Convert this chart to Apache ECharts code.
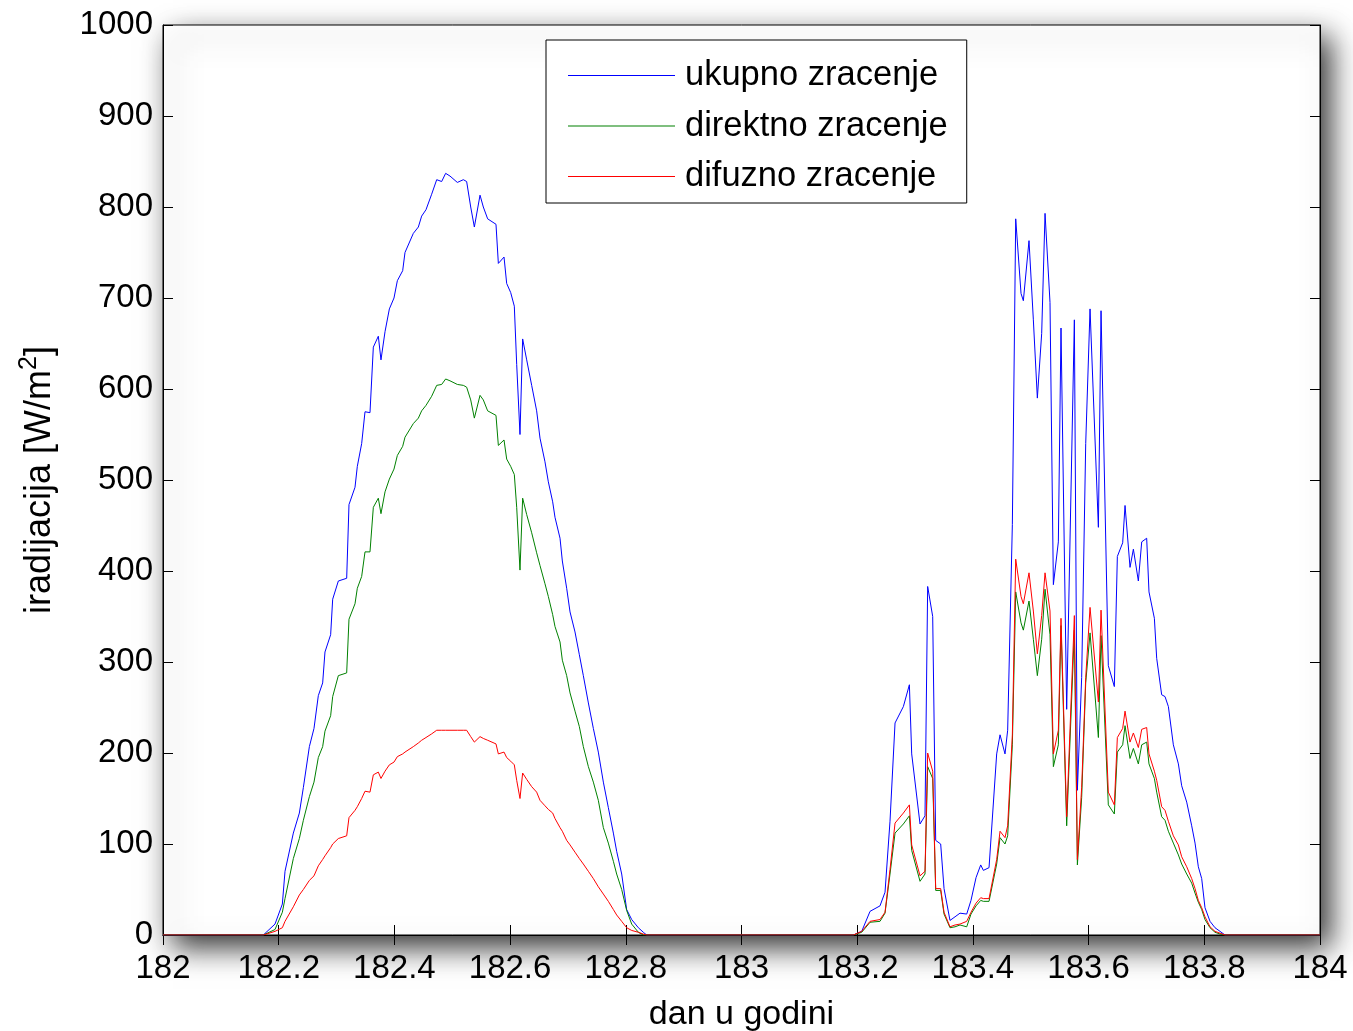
<!DOCTYPE html>
<html>
<head>
<meta charset="utf-8">
<script src="https://cdn.jsdelivr.net/npm/echarts@6/dist/echarts.min.js"></script>
<style>
  html, body { margin: 0; padding: 0; background: #fff; }
  #chart { width: 1353px; height: 1031px; }
</style>
</head>
<body>
<div id="chart"></div>
<script>
// vrijeme (dan u godini)
const dani = [182,
  182.1734,182.1936,182.2063,182.2109,182.2253,182.2357,182.2426,182.2530,182.2610,182.2685,
  182.2760,182.2800,182.2898,182.2933,182.3031,182.3175,182.3215,182.3319,182.3359,182.3434,
  182.3492,182.3578,182.3636,182.3722,182.3768,182.3838,182.3913,182.3993,182.4051,182.4143,
  182.4183,182.4327,182.4414,182.4471,182.4546,182.4644,182.4731,182.4817,182.4886,182.4961,
  182.5088,182.5192,182.5249,182.5319,182.5382,182.5480,182.5537,182.5612,182.5756,182.5797,
  182.5895,182.5941,182.6010,182.6073,182.6114,182.6171,182.6217,182.6287,182.6373,182.6459,
  182.6517,182.6603,182.6661,182.6736,182.6776,182.6863,182.6903,182.6978,182.7036,182.7122,
  182.7197,182.7266,182.7353,182.7439,182.7525,182.7612,182.7698,182.7785,182.7842,182.7929,
  182.8015,182.8102,182.8217,182.8303,182.8361,
  183.1933,183.2078,183.2222,183.2394,183.2481,183.2567,183.2654,183.2798,183.2902,183.2942,
  183.3086,183.3172,183.3218,183.3305,183.3357,183.3443,183.3501,183.3604,183.3691,183.3777,
  183.3893,183.3967,183.4054,183.4135,183.4181,183.4279,183.4411,183.4469,183.4555,183.4601,
  183.4682,183.4740,183.4832,183.4872,183.4970,183.5045,183.5114,183.5189,183.5247,183.5333,
  183.5391,183.5477,183.5523,183.5621,183.5754,183.5806,183.5880,183.5950,183.6025,183.6169,
  183.6215,183.6341,183.6445,183.6497,183.6589,183.6630,183.6716,183.6774,183.6860,183.6918,
  183.7004,183.7044,183.7137,183.7177,183.7263,183.7321,183.7379,183.7465,183.7552,183.7609,
  183.7696,183.7782,183.7840,183.7897,183.7955,183.8012,183.8099,183.8185,183.8272,183.8358,
  184];

const ukupno = [0,
  0,12,34,70,112,134,162,207,227,263, 277,311,330,369,389,392,473,492,515,540,
  575,574,646,658,632,663,688,700,719,730, 750,771,778,790,797,814,830,828,837,834,
  827,830,828,800,778,813,800,787,781,738, 745,716,706,691,627,550,655,632,604,576,
  546,520,498,476,459,436,411,381,355,333, 308,285,255,227,201,168,140,112,92,67,
  28,17,8,3,0,
  0,4,26,32,47,125,233,251,275,199, 122,131,383,350,104,100,51,16,20,24,
  23,38,63,77,71,74,199,220,199,225, 451,787,705,697,763,676,590,661,793,695,
  385,432,667,248,676,159,283,540,688,448, 686,296,273,416,431,472,404,424,389,432,
  436,377,348,304,264,262,251,209,188,164, 146,120,101,75,62,30,15,8,4,0,
  0];

const direktno = [0,
  0,6,25,40,84,106,126,152,168,195, 207,224,241,262,285,288,347,364,381,394,
  421,421,470,480,463,487,501,512,527,537, 547,562,568,576,582,592,604,605,611,609,
  605,604,602,588,568,593,588,576,571,538, 544,523,515,506,470,401,480,462,442,420,
  406,386,372,352,339,322,302,285,266,246, 229,207,185,168,148,118,101,81,67,50,
  27,12,3,0,0,
  0,3,14,15,24,67,112,122,131,93, 59,67,185,172,49,49,23,8,9,11,
  9,23,32,38,37,37,78,107,100,109, 209,377,343,335,367,325,285,325,380,330,
  185,209,340,120,335,77,151,277,332,217, 329,143,133,201,209,230,194,205,188,209,
  212,188,172,157,130,126,114,101,88,78, 67,57,46,36,28,17,8,3,1,0,
  0];

const difuzno = [0,
  0,4,8,15,31,44,50,60,65,76, 83,87,96,100,106,109,129,137,141,150,
  158,157,176,179,172,180,187,190,196,199, 201,207,211,214,217,221,225,225,225,225,
  225,225,225,218,212,218,216,214,210,199, 201,195,191,187,170,150,178,171,163,157,
  148,142,138,134,128,118,114,104,99,91, 84,78,70,62,53,45,37,28,22,15,
  8,5,3,1,0,
  0,4,15,17,25,72,123,134,143,99, 65,70,200,180,51,51,25,9,11,12,
  15,25,35,41,40,40,83,114,107,120, 220,413,372,364,398,356,309,351,398,356,
  199,225,348,130,351,83,162,283,360,256, 357,157,143,217,227,246,212,222,206,226,
  228,199,180,170,141,137,125,109,99,86, 75,62,51,38,30,20,9,4,2,0,
  0];

const nazivi = ['ukupno zracenje', 'direktno zracenje', 'difuzno zracenje'];
const boje = ['#0000ff', '#008000', '#ff0000'];

var chartDom = document.getElementById('chart');
var myChart = echarts.init(chartDom);
var font = "'Liberation Sans', Arial, sans-serif";

function pairs(vals) {
  return dani.map(function (d, i) { return [d, vals[i]]; });
}

var tickInside = { show: true, inside: true, length: 10, lineStyle: { color: '#000', width: 1 } };
var axisLineBlack = { show: true, lineStyle: { color: '#000', width: 1 } };

var option = {
  animation: false,
  backgroundColor: '#fff',
  grid: {
    left: 163, right: 33, top: 25, bottom: 96,
    outerBoundsMode: 'none',
    show: true,
    backgroundColor: '#fff',
    borderColor: '#000',
    borderWidth: 1,
    shadowBlur: 28,
    shadowColor: 'rgba(0,0,0,0.8)',
    shadowOffsetX: 10,
    shadowOffsetY: 12
  },
  legend: {
    data: nazivi.map(function (n, i) {
      return { name: n, icon: 'rect', itemStyle: { color: boje[i], borderWidth: 0 } };
    }),
    orient: 'vertical',
    left: 546,
    top: 40,
    padding: [18, 19, 9, 22],
    itemWidth: 107,
    itemHeight: 1,
    itemGap: 15.5,
    borderColor: '#000',
    borderWidth: 1,
    backgroundColor: '#fff',
    textStyle: { fontSize: 34.5, color: '#000', fontFamily: font, padding: [0, 0, 0, 5] }
  },
  xAxis: [
    {
      type: 'value', min: 182, max: 184, interval: 0.2, position: 'bottom',
      axisLine: axisLineBlack, axisTick: tickInside, splitLine: { show: false },
      axisLabel: {
        fontSize: 33, color: '#000', fontFamily: font, margin: 17,
        formatter: function (v) { return String(parseFloat(v.toFixed(1))); }
      },
      name: 'dan u godini', nameLocation: 'middle', nameGap: 63,
      nameTextStyle: { fontSize: 34, color: '#000', fontFamily: font }
    },
    {
      type: 'value', min: 182, max: 184, interval: 0.2, position: 'top',
      axisLine: axisLineBlack, axisTick: tickInside, splitLine: { show: false },
      axisLabel: { show: false }
    }
  ],
  yAxis: [
    {
      type: 'value', min: 0, max: 1000, interval: 100, position: 'left',
      axisLine: axisLineBlack, axisTick: tickInside, splitLine: { show: false },
      axisLabel: {
        fontSize: 33, color: '#000', fontFamily: font, margin: 10,
        formatter: function (v) { return String(v); }
      },
      name: '{a|iradijacija [W/m}{b|2}{a|]}', nameLocation: 'middle', nameGap: 100, nameRotate: 90,
      nameTextStyle: {
        color: '#000', fontFamily: font, fontSize: 36,
        rich: {
          a: { fontSize: 36, color: '#000', fontFamily: font, lineHeight: 46 },
          b: { fontSize: 25, color: '#000', fontFamily: font, verticalAlign: 'top' }
        }
      }
    },
    {
      type: 'value', min: 0, max: 1000, interval: 100, position: 'right',
      axisLine: axisLineBlack, axisTick: tickInside, splitLine: { show: false },
      axisLabel: { show: false }
    }
  ],
  series: [
    { name: nazivi[0], type: 'line', data: pairs(ukupno), color: boje[0] },
    { name: nazivi[1], type: 'line', data: pairs(direktno), color: boje[1] },
    { name: nazivi[2], type: 'line', data: pairs(difuzno), color: boje[2] }
  ].map(function (s) {
    s.symbol = 'none';
    s.showSymbol = false;
    s.lineStyle = { width: 1, color: s.color };
    s.xAxisIndex = 0;
    s.yAxisIndex = 0;
    return s;
  })
};

option && myChart.setOption(option);
</script>
</body>
</html>
